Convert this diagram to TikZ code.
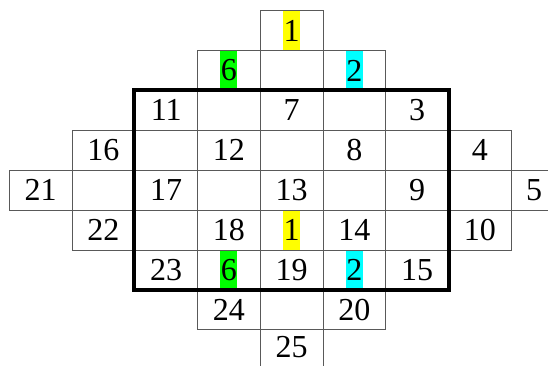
\documentclass[tikz,border=0pt]{standalone}
\usepackage{fontspec}
\setmainfont{Liberation Serif}
\usetikzlibrary{backgrounds}
\definecolor{hlyellow}{RGB}{255,255,0}
\definecolor{hlgreen}{RGB}{0,255,0}
\definecolor{hlcyan}{RGB}{0,255,255}
\begin{document}
\begin{tikzpicture}[x=1pt,y=-1pt,
  cellbox/.style={draw=black!65, line width=0.9pt, minimum width=62.75pt,
    minimum height=39.875pt, inner sep=0pt,
    font=\fontsize{32}{36}\selectfont, anchor=center},
  frame/.style={line width=3.8pt}]
\useasboundingbox (0,0) rectangle (548,365);
\clip (0,0) rectangle (548,365);
\foreach \c/\r/\t in {
  4/0/1,
  3/1/6, 4/1/{}, 5/1/2,
  2/2/11, 3/2/{}, 4/2/7, 5/2/{}, 6/2/3,
  1/3/16, 2/3/{}, 3/3/12, 4/3/{}, 5/3/8, 6/3/{}, 7/3/4,
  0/4/21, 1/4/{}, 2/4/17, 3/4/{}, 4/4/13, 5/4/{}, 6/4/9, 7/4/{}, 8/4/{5\hspace*{17pt}},
  1/5/22, 2/5/{}, 3/5/18, 4/5/1, 5/5/14, 6/5/{}, 7/5/10,
  2/6/23, 3/6/6, 4/6/19, 5/6/2, 6/6/15,
  3/7/24, 4/7/{}, 5/7/20} {
  \node[cellbox] (c\c-\r) at ({9.3+62.75*(\c+0.5)}, {10.7+39.875*(\r+0.5)}) {\t};
}
\node[cellbox, text depth=6pt] (c4-8) at ({9.3+62.75*4.5}, {10.7+39.875*8.5}) {25};
\begin{scope}[on background layer]
\foreach \n/\col in {c4-0/hlyellow, c3-1/hlgreen, c5-1/hlcyan, c4-5/hlyellow, c3-6/hlgreen, c5-6/hlcyan}
  \fill[\col] ([xshift=-8.5pt]\n.north) rectangle ([xshift=8.5pt]\n.south);
\end{scope}
\draw[frame] (c2-2.north west) rectangle (c6-6.south east);
\end{tikzpicture}
\end{document}
